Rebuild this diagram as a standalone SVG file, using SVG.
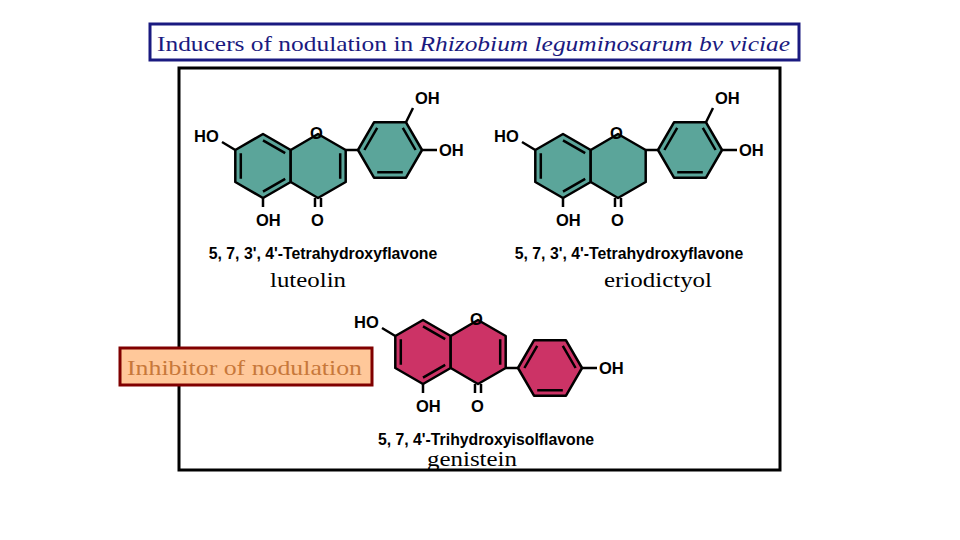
<svg xmlns="http://www.w3.org/2000/svg" width="960" height="540" viewBox="0 0 960 540">
<style>
.ring{stroke:#000;stroke-width:2.5;stroke-linejoin:round}
.b{stroke:#000;stroke-width:2.5;fill:none}
.at{font-family:"Liberation Sans",Arial,sans-serif;font-weight:bold;font-size:16.5px;fill:#000}
.cap{font-family:"Liberation Sans",Arial,sans-serif;font-weight:bold;font-size:15.8px;fill:#000;text-anchor:middle}
.nm{font-family:"Liberation Serif","Times New Roman",serif;font-size:22px;fill:#000;text-anchor:middle}
</style>
<defs>
<g id="core">
<polygon class="ring" points="263,134 290.7,150 290.7,182 263,198 235.3,182 235.3,150"/>
<polygon class="ring" points="318,134 345.7,150 345.7,182 318,198 290.7,182 290.7,150"/>
<path class="b" d="M240.8,178.8L240.8,153.2M263,140.4L285.2,153.2M285.2,178.8L263,191.6M235.3,150L222,142M263,198L263,207M315,198L315,207M321,198L321,207"/>
<text class="at" x="194" y="142">HO</text>
<text class="at" x="256" y="226">OH</text>
<text class="at" x="311" y="226">O</text>
<text class="at" x="310" y="139">O</text>
</g>
</defs>
<rect x="150" y="24" width="649" height="36" fill="#fff" stroke="#1a1a80" stroke-width="3"/>
<text x="157" y="51" font-family="Liberation Serif,'Times New Roman',serif" font-size="22" fill="#1a1a80" textLength="633" lengthAdjust="spacingAndGlyphs">Inducers of nodulation in <tspan font-style="italic">Rhizobium leguminosarum bv viciae</tspan></text>
<rect x="179" y="68" width="601" height="402" fill="#fff" stroke="#000" stroke-width="3"/>
<g id="luteolin">
<g fill="#5BA59A"><use href="#core"/></g>
<polygon class="ring" fill="#5BA59A" points="358,150 374,122.3 406,122.3 422,150 406,177.7 374,177.7"/>
<path class="b" d="M340.2,153.2L340.2,178.8M345.7,150L358,150M364.4,150L377.2,127.8M402.8,127.8L415.6,150M402.8,172.2L377.2,172.2M406,122.3L413,108M422,150L437,150"/>
<text class="at" x="415" y="104">OH</text>
<text class="at" x="439" y="156">OH</text>
<text class="cap" x="323" y="259">5, 7, 3', 4'-Tetrahydroxyflavone</text>
<text class="nm" x="308" y="287" textLength="76" lengthAdjust="spacingAndGlyphs">luteolin</text>
</g>
<g id="eriodictyol" transform="translate(300,0)">
<g fill="#5BA59A"><use href="#core"/></g>
<polygon class="ring" fill="#5BA59A" points="358,150 374,122.3 406,122.3 422,150 406,177.7 374,177.7"/>
<path class="b" d="M345.7,150L358,150M364.4,150L377.2,127.8M402.8,127.8L415.6,150M402.8,172.2L377.2,172.2M406,122.3L413,108M422,150L437,150"/>
<text class="at" x="415" y="104">OH</text>
<text class="at" x="439" y="156">OH</text>
<text class="cap" x="329" y="259">5, 7, 3', 4'-Tetrahydroxyflavone</text>
<text class="nm" x="358" y="287" textLength="108" lengthAdjust="spacingAndGlyphs">eriodictyol</text>
</g>
<g id="genistein" transform="translate(160,186)">
<g fill="#CC3366"><use href="#core"/></g>
<polygon class="ring" fill="#CC3366" points="358,182 374,154.3 406,154.3 422,182 406,209.7 374,209.7"/>
<path class="b" d="M340.2,153.2L340.2,178.8M345.7,182L358,182M364.4,182L377.2,159.8M402.8,159.8L415.6,182M402.8,204.2L377.2,204.2M422,182L437,182"/>
<text class="at" x="439" y="188">OH</text>
<text class="cap" x="326" y="259">5, 7, 4'-Trihydroxyisolflavone</text>
<text class="nm" x="312" y="280" textLength="90" lengthAdjust="spacingAndGlyphs">genistein</text>
</g>
<rect x="120" y="348" width="252" height="37" fill="#FFC89A" stroke="#800000" stroke-width="3"/>
<text x="127" y="375" font-family="Liberation Serif,'Times New Roman',serif" font-size="22" fill="#C8783A" textLength="235" lengthAdjust="spacingAndGlyphs">Inhibitor of nodulation</text>
</svg>
